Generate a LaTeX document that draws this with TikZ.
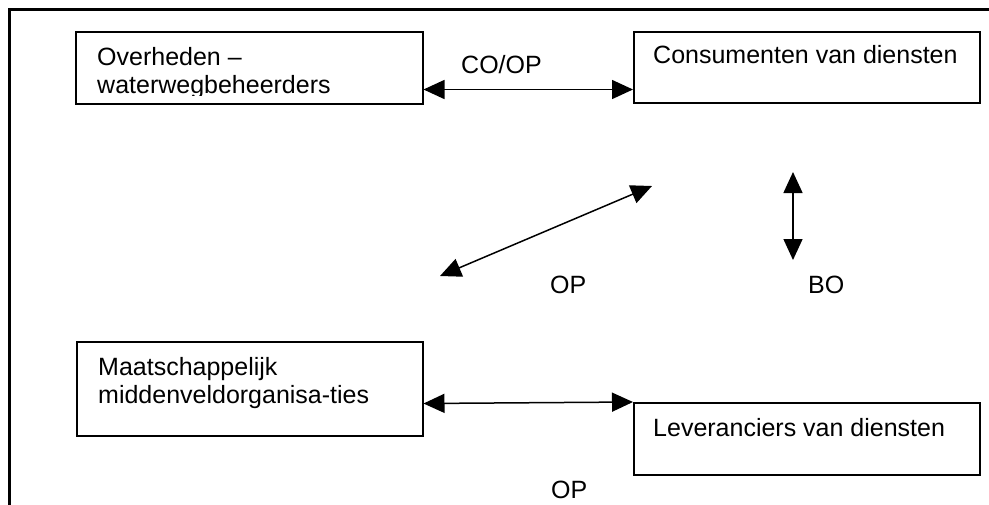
\documentclass[tikz,border=0pt]{standalone}
\usepackage{fontspec}
\setmainfont{Liberation Sans}
\usetikzlibrary{arrows.meta}
\begin{document}
\begin{tikzpicture}[x=1pt,y=-1pt,
  box/.style={draw, line width=1.5pt, inner sep=0pt, anchor=north west},
  lbl/.style={inner sep=0pt, anchor=base west, font=\fontsize{25}{28}\selectfont, align=left},
  dbl/.style={line width=1.5pt, {Triangle[length=21pt,width=19pt]}-{Triangle[length=21pt,width=19pt]}}]
\useasboundingbox (0,0) rectangle (989,504);
\begin{scope}
  \clip (0,0) rectangle (989,504);
  \draw[line width=3pt] (9,530) -- (9,9) -- (1010,9);
\end{scope}

% boxes
\node[box, minimum width=347pt, minimum height=72pt] (gov) at (75,31) {};
\node[box, minimum width=346pt, minimum height=71pt] (cons) at (633,31) {};
\node[box, minimum width=346pt, minimum height=94pt] (maat) at (76,341) {};
\node[box, minimum width=346pt, minimum height=72pt] (lev) at (633,402) {};

% box texts (base anchor = baseline of the last line)
\begin{scope}
  \clip (75,31) rectangle (422,95);
  \node[lbl] (govtxt) at (97,93) {Overheden –\\waterwegbeheerders};
\end{scope}
\node[lbl] (constxt) at (653,63) {Consumenten van diensten};
\node[lbl] (maattxt) at (98,403) {Maatschappelijk\\middenveldorganisa-ties};
\node[lbl] (levtxt) at (653,436) {Leveranciers van diensten};

% free ends
\coordinate (d1) at (440,276);
\coordinate (d2) at (652,186);
\coordinate (v1) at (793,172);
\coordinate (v2) at (793,260);

% connectors
\draw[dbl] ([yshift=15pt]gov.south east) -- ([yshift=14pt]cons.south west);
\draw[dbl] (d1) -- (d2);
\draw[dbl] (v1) -- (v2);
\draw[dbl] ([yshift=33pt]maat.south east) -- (lev.north west);

% labels
\node[lbl] (coop) at (461,73) {CO/OP};
\node[lbl] (op1) at (550,293) {OP};
\node[lbl] (bo) at (808,293) {BO};
\node[lbl] (op2) at (551,498) {OP};
\end{tikzpicture}
\end{document}
